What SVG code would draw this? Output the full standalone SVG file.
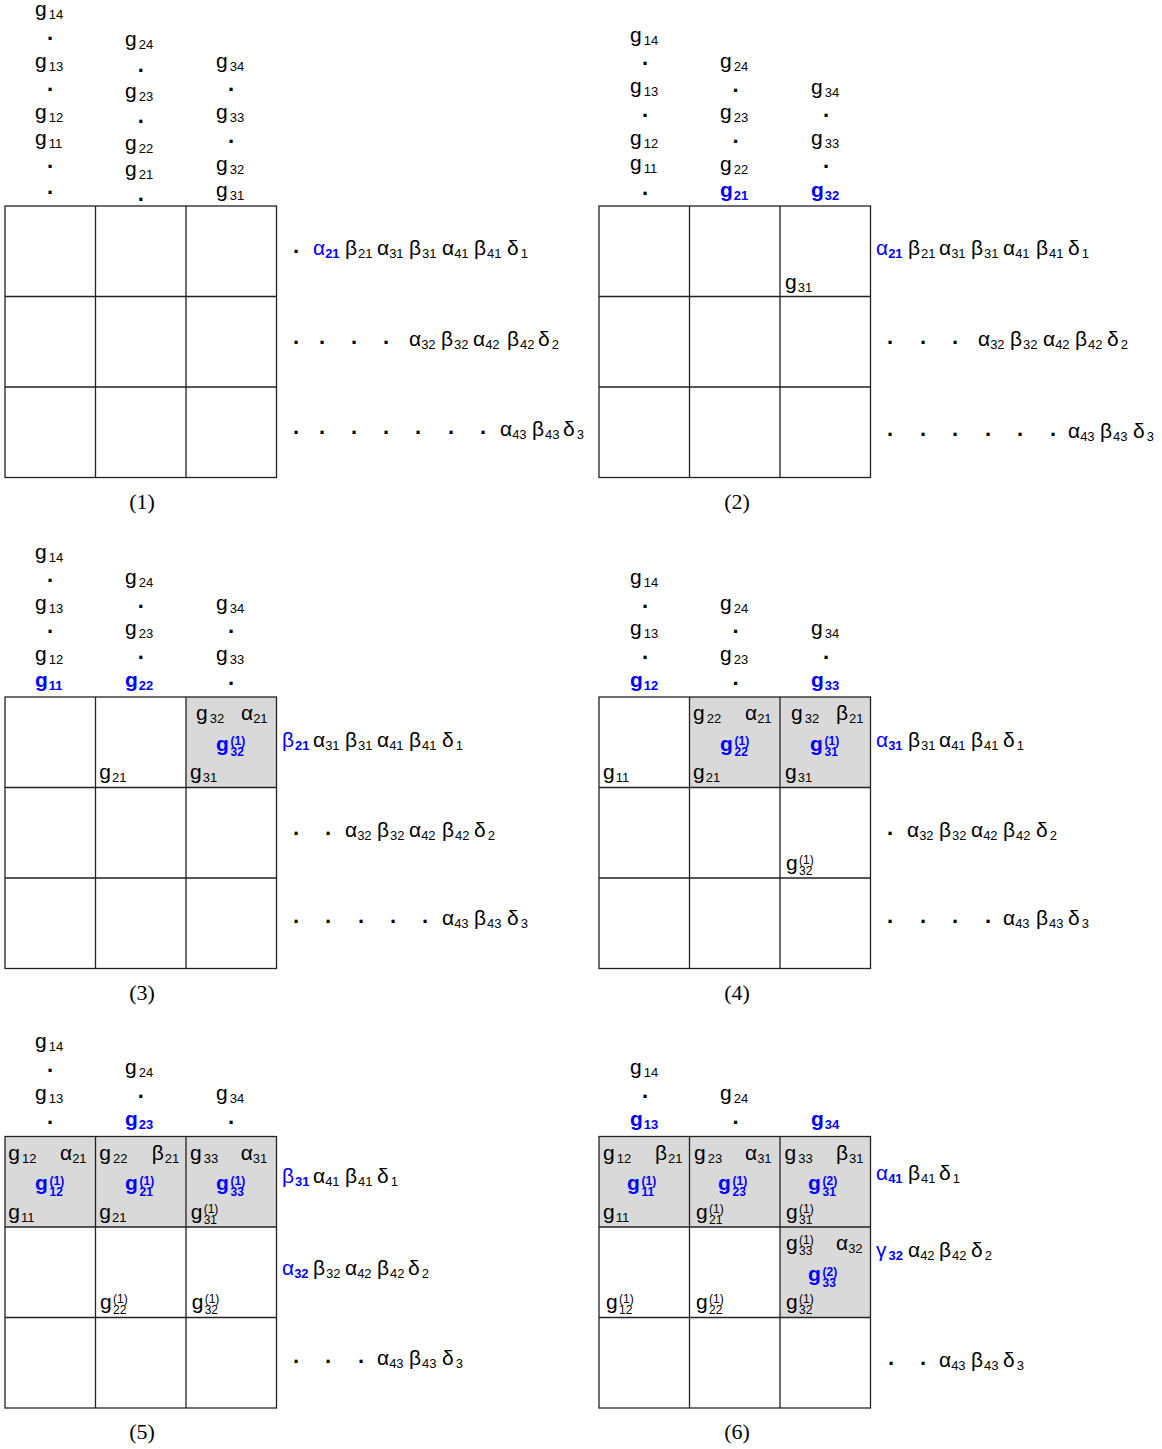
<svg xmlns="http://www.w3.org/2000/svg" width="1162" height="1449" viewBox="0 0 1162 1449">
<style>
text{font-family:"Liberation Sans",Arial,sans-serif;font-size:21px;fill:#000}
.s{font-size:13px}
.k{font-size:12px}
.b{fill:#0000ff;font-weight:bold}
.bl{fill:#0000ff}
.sb{font-weight:bold}
.d{text-anchor:middle;font-weight:bold;font-size:22px}
.lab{font-family:"Liberation Serif","Times New Roman",serif;font-size:22px;text-anchor:middle}
.grid{fill:none;stroke:#222;stroke-width:1.3}
.sh{fill:#d9d9d9}
</style>
<rect width="1162" height="1449" fill="#fff"/>

<!-- ================= Panel 1 ================= -->
<g id="panel1">
  <g class="gridlines">
    <rect class="grid" x="5" y="206" width="271.5" height="271.5"/>
    <path class="grid" d="M95.5 206V477.5M186 206V477.5M5 296.5H276.5M5 387H276.5"/>
  </g>
  <text x="35" y="16">g<tspan class="s" dx="2" dy="3">14</tspan></text>
  <text class="d" x="50" y="40.2">.</text>
  <text x="35" y="68">g<tspan class="s" dx="2" dy="3">13</tspan></text>
  <text class="d" x="50" y="90.8">.</text>
  <text x="35" y="119">g<tspan class="s" dx="2" dy="3">12</tspan></text>
  <text x="35" y="145">g<tspan class="s" dx="2" dy="3">11</tspan></text>
  <text class="d" x="50" y="167.5">.</text>
  <text class="d" x="50" y="193.8">.</text>

  <text x="125" y="46">g<tspan class="s" dx="2" dy="3">24</tspan></text>
  <text class="d" x="140.7" y="71.5">.</text>
  <text x="125" y="98">g<tspan class="s" dx="2" dy="3">23</tspan></text>
  <text class="d" x="140.7" y="123.2">.</text>
  <text x="125" y="150">g<tspan class="s" dx="2" dy="3">22</tspan></text>
  <text x="125" y="176">g<tspan class="s" dx="2" dy="3">21</tspan></text>
  <text class="d" x="140.7" y="200.5">.</text>

  <text x="216" y="68">g<tspan class="s" dx="2" dy="3">34</tspan></text>
  <text class="d" x="231" y="90.8">.</text>
  <text x="216" y="119">g<tspan class="s" dx="2" dy="3">33</tspan></text>
  <text class="d" x="231" y="142.5">.</text>
  <text x="216" y="171">g<tspan class="s" dx="2" dy="3">32</tspan></text>
  <text x="216" y="197">g<tspan class="s" dx="2" dy="3">31</tspan></text>

  <text class="d" x="296" y="253">.</text>
  <text class="bl" x="313" y="255">α<tspan class="s sb" dy="3">21</tspan></text>
  <text x="345" y="255">β<tspan class="s" dx="1" dy="3">21</tspan></text>
  <text x="377" y="255">α<tspan class="s" dy="3">31</tspan></text>
  <text x="409" y="255">β<tspan class="s" dx="1" dy="3">31</tspan></text>
  <text x="442" y="255">α<tspan class="s" dy="3">41</tspan></text>
  <text x="474" y="255">β<tspan class="s" dx="1" dy="3">41</tspan></text>
  <text x="507" y="255">δ<tspan class="s" dx="2" dy="3">1</tspan></text>

  <text class="d" x="296" y="344">.</text>
  <text class="d" x="322" y="344">.</text>
  <text class="d" x="354" y="344">.</text>
  <text class="d" x="386" y="344">.</text>
  <text x="409" y="346">α<tspan class="s" dy="3">32</tspan></text>
  <text x="441" y="346">β<tspan class="s" dx="1" dy="3">32</tspan></text>
  <text x="473" y="346">α<tspan class="s" dy="3">42</tspan></text>
  <text x="507" y="346">β<tspan class="s" dx="1" dy="3">42</tspan></text>
  <text x="538" y="346">δ<tspan class="s" dx="2" dy="3">2</tspan></text>

  <text class="d" x="296" y="434">.</text>
  <text class="d" x="322" y="434">.</text>
  <text class="d" x="354" y="434">.</text>
  <text class="d" x="386" y="434">.</text>
  <text class="d" x="418" y="434">.</text>
  <text class="d" x="451" y="434">.</text>
  <text class="d" x="483" y="434">.</text>
  <text x="500" y="436">α<tspan class="s" dy="3">43</tspan></text>
  <text x="532" y="436">β<tspan class="s" dx="1" dy="3">43</tspan></text>
  <text x="563" y="436">δ<tspan class="s" dx="2" dy="3">3</tspan></text>

  <text class="lab" x="142" y="509">(1)</text>
</g>

<!-- ================= Panel 2 ================= -->
<g id="panel2">
  <g class="gridlines">
    <rect class="grid" x="599" y="206" width="271.5" height="271.5"/>
    <path class="grid" d="M689.5 206V477.5M780 206V477.5M599 296.5H870.5M599 387H870.5"/>
  </g>
  <text x="630" y="42">g<tspan class="s" dx="2" dy="3">14</tspan></text>
  <text class="d" x="645" y="64.8">.</text>
  <text x="630" y="93">g<tspan class="s" dx="2" dy="3">13</tspan></text>
  <text class="d" x="645" y="116.5">.</text>
  <text x="630" y="145">g<tspan class="s" dx="2" dy="3">12</tspan></text>
  <text x="630" y="170">g<tspan class="s" dx="2" dy="3">11</tspan></text>
  <text class="d" x="645" y="194.8">.</text>

  <text x="720" y="68">g<tspan class="s" dx="2" dy="3">24</tspan></text>
  <text class="d" x="735.5" y="91.5">.</text>
  <text x="720" y="119">g<tspan class="s" dx="2" dy="3">23</tspan></text>
  <text class="d" x="735.5" y="143.2">.</text>
  <text x="720" y="171">g<tspan class="s" dx="2" dy="3">22</tspan></text>
  <text class="b" x="720" y="197">g<tspan class="s" dx="1" dy="3">21</tspan></text>

  <text x="811" y="94">g<tspan class="s" dx="2" dy="3">34</tspan></text>
  <text class="d" x="826" y="116.5">.</text>
  <text x="811" y="145">g<tspan class="s" dx="2" dy="3">33</tspan></text>
  <text class="d" x="826" y="168.2">.</text>
  <text class="b" x="811" y="197">g<tspan class="s" dx="1" dy="3">32</tspan></text>

  <text x="785" y="289">g<tspan class="s" dx="1" dy="3">31</tspan></text>

  <text class="bl" x="876" y="255">α<tspan class="s sb" dy="3">21</tspan></text>
  <text x="908" y="255">β<tspan class="s" dx="1" dy="3">21</tspan></text>
  <text x="939" y="255">α<tspan class="s" dy="3">31</tspan></text>
  <text x="971" y="255">β<tspan class="s" dx="1" dy="3">31</tspan></text>
  <text x="1003" y="255">α<tspan class="s" dy="3">41</tspan></text>
  <text x="1036" y="255">β<tspan class="s" dx="1" dy="3">41</tspan></text>
  <text x="1068" y="255">δ<tspan class="s" dx="2" dy="3">1</tspan></text>

  <text class="d" x="890" y="344">.</text>
  <text class="d" x="923" y="344">.</text>
  <text class="d" x="955" y="344">.</text>
  <text x="978" y="346">α<tspan class="s" dy="3">32</tspan></text>
  <text x="1010" y="346">β<tspan class="s" dx="1" dy="3">32</tspan></text>
  <text x="1043" y="346">α<tspan class="s" dy="3">42</tspan></text>
  <text x="1075" y="346">β<tspan class="s" dx="1" dy="3">42</tspan></text>
  <text x="1107" y="346">δ<tspan class="s" dx="2" dy="3">2</tspan></text>

  <text class="d" x="890" y="436">.</text>
  <text class="d" x="923" y="436">.</text>
  <text class="d" x="955" y="436">.</text>
  <text class="d" x="988" y="436">.</text>
  <text class="d" x="1020" y="436">.</text>
  <text class="d" x="1053" y="436">.</text>
  <text x="1068" y="438">α<tspan class="s" dy="3">43</tspan></text>
  <text x="1100" y="438">β<tspan class="s" dx="1" dy="3">43</tspan></text>
  <text x="1133" y="438">δ<tspan class="s" dx="2" dy="3">3</tspan></text>

  <text class="lab" x="737" y="509">(2)</text>
</g>

<!-- ================= Panel 3 ================= -->
<g id="panel3">
  <rect class="sh" x="186" y="697" width="90.5" height="90.5"/>
  <g class="gridlines">
    <rect class="grid" x="5" y="697" width="271.5" height="271.5"/>
    <path class="grid" d="M95.5 697V968.5M186 697V968.5M5 787.5H276.5M5 878H276.5"/>
  </g>
  <text x="35" y="559">g<tspan class="s" dx="2" dy="3">14</tspan></text>
  <text class="d" x="50" y="581.5">.</text>
  <text x="35" y="610">g<tspan class="s" dx="2" dy="3">13</tspan></text>
  <text class="d" x="50" y="632.5">.</text>
  <text x="35" y="661">g<tspan class="s" dx="2" dy="3">12</tspan></text>
  <text class="b" x="35" y="687">g<tspan class="s" dx="1" dy="3">11</tspan></text>

  <text x="125" y="584">g<tspan class="s" dx="2" dy="3">24</tspan></text>
  <text class="d" x="140.7" y="607.5">.</text>
  <text x="125" y="635">g<tspan class="s" dx="2" dy="3">23</tspan></text>
  <text class="d" x="140.7" y="658.5">.</text>
  <text class="b" x="125" y="687">g<tspan class="s" dx="1" dy="3">22</tspan></text>

  <text x="216" y="610">g<tspan class="s" dx="2" dy="3">34</tspan></text>
  <text class="d" x="231" y="632.5">.</text>
  <text x="216" y="661">g<tspan class="s" dx="2" dy="3">33</tspan></text>
  <text class="d" x="231" y="684.5">.</text>

  <text x="99.3" y="779">g<tspan class="s" dx="1" dy="3">21</tspan></text>
  <text x="196" y="720">g<tspan class="s" dx="2" dy="3">32</tspan></text>
  <text x="241" y="720">α<tspan class="s" dy="3">21</tspan></text>
  <text class="b" x="216" y="750.5">g<tspan class="k" x="230.5" dy="-5.5">(1)</tspan><tspan class="k" x="230.5" dy="11">32</tspan></text>
  <text x="190" y="779">g<tspan class="s" dx="1" dy="3">31</tspan></text>

  <text class="bl" x="282" y="747">β<tspan class="s sb" dx="1" dy="3">21</tspan></text>
  <text x="313" y="747">α<tspan class="s" dy="3">31</tspan></text>
  <text x="345" y="747">β<tspan class="s" dx="1" dy="3">31</tspan></text>
  <text x="377" y="747">α<tspan class="s" dy="3">41</tspan></text>
  <text x="409" y="747">β<tspan class="s" dx="1" dy="3">41</tspan></text>
  <text x="442" y="747">δ<tspan class="s" dx="2" dy="3">1</tspan></text>

  <text class="d" x="296" y="835">.</text>
  <text class="d" x="328" y="835">.</text>
  <text x="345" y="837">α<tspan class="s" dy="3">32</tspan></text>
  <text x="377" y="837">β<tspan class="s" dx="1" dy="3">32</tspan></text>
  <text x="409" y="837">α<tspan class="s" dy="3">42</tspan></text>
  <text x="442" y="837">β<tspan class="s" dx="1" dy="3">42</tspan></text>
  <text x="474" y="837">δ<tspan class="s" dx="2" dy="3">2</tspan></text>

  <text class="d" x="296" y="923">.</text>
  <text class="d" x="328" y="923">.</text>
  <text class="d" x="361" y="923">.</text>
  <text class="d" x="393" y="923">.</text>
  <text class="d" x="425" y="923">.</text>
  <text x="442" y="925">α<tspan class="s" dy="3">43</tspan></text>
  <text x="474" y="925">β<tspan class="s" dx="1" dy="3">43</tspan></text>
  <text x="507" y="925">δ<tspan class="s" dx="2" dy="3">3</tspan></text>

  <text class="lab" x="142" y="1000">(3)</text>
</g>

<!-- ================= Panel 4 ================= -->
<g id="panel4">
  <rect class="sh" x="689.5" y="697" width="181" height="90.5"/>
  <g class="gridlines">
    <rect class="grid" x="599" y="697" width="271.5" height="271.5"/>
    <path class="grid" d="M689.5 697V968.5M780 697V968.5M599 787.5H870.5M599 878H870.5"/>
  </g>
  <text x="630" y="584">g<tspan class="s" dx="2" dy="3">14</tspan></text>
  <text class="d" x="645" y="607.5">.</text>
  <text x="630" y="635">g<tspan class="s" dx="2" dy="3">13</tspan></text>
  <text class="d" x="645" y="658.5">.</text>
  <text class="b" x="630" y="687">g<tspan class="s" dx="1" dy="3">12</tspan></text>

  <text x="720" y="610">g<tspan class="s" dx="2" dy="3">24</tspan></text>
  <text class="d" x="735.5" y="632.5">.</text>
  <text x="720" y="661">g<tspan class="s" dx="2" dy="3">23</tspan></text>
  <text class="d" x="735.5" y="684.5">.</text>

  <text x="811" y="635">g<tspan class="s" dx="2" dy="3">34</tspan></text>
  <text class="d" x="826" y="658.5">.</text>
  <text class="b" x="811" y="687">g<tspan class="s" dx="1" dy="3">33</tspan></text>

  <text x="603" y="779">g<tspan class="s" dx="1" dy="3">11</tspan></text>

  <text x="693" y="720">g<tspan class="s" dx="2" dy="3">22</tspan></text>
  <text x="745" y="720">α<tspan class="s" dy="3">21</tspan></text>
  <text class="b" x="720" y="750.5">g<tspan class="k" x="734.5" dy="-5.5">(1)</tspan><tspan class="k" x="734.5" dy="11">22</tspan></text>
  <text x="693" y="779">g<tspan class="s" dx="1" dy="3">21</tspan></text>

  <text x="791" y="720">g<tspan class="s" dx="2" dy="3">32</tspan></text>
  <text x="836" y="720">β<tspan class="s" dx="1" dy="3">21</tspan></text>
  <text class="b" x="810" y="750.5">g<tspan class="k" x="824.5" dy="-5.5">(1)</tspan><tspan class="k" x="824.5" dy="11">31</tspan></text>
  <text x="785" y="779">g<tspan class="s" dx="1" dy="3">31</tspan></text>

  <text x="786" y="869.5">g<tspan class="k" x="799" dy="-6">(1)</tspan><tspan class="k" x="799" dy="11">32</tspan></text>

  <text class="bl" x="876" y="747">α<tspan class="s sb" dy="3">31</tspan></text>
  <text x="908" y="747">β<tspan class="s" dx="1" dy="3">31</tspan></text>
  <text x="939" y="747">α<tspan class="s" dy="3">41</tspan></text>
  <text x="971" y="747">β<tspan class="s" dx="1" dy="3">41</tspan></text>
  <text x="1003" y="747">δ<tspan class="s" dx="2" dy="3">1</tspan></text>

  <text class="d" x="890" y="835">.</text>
  <text x="907" y="837">α<tspan class="s" dy="3">32</tspan></text>
  <text x="939" y="837">β<tspan class="s" dx="1" dy="3">32</tspan></text>
  <text x="971" y="837">α<tspan class="s" dy="3">42</tspan></text>
  <text x="1003" y="837">β<tspan class="s" dx="1" dy="3">42</tspan></text>
  <text x="1036" y="837">δ<tspan class="s" dx="2" dy="3">2</tspan></text>

  <text class="d" x="890" y="923">.</text>
  <text class="d" x="923" y="923">.</text>
  <text class="d" x="955" y="923">.</text>
  <text class="d" x="988" y="923">.</text>
  <text x="1003" y="925">α<tspan class="s" dy="3">43</tspan></text>
  <text x="1036" y="925">β<tspan class="s" dx="1" dy="3">43</tspan></text>
  <text x="1068" y="925">δ<tspan class="s" dx="2" dy="3">3</tspan></text>

  <text class="lab" x="737" y="1000">(4)</text>
</g>

<!-- ================= Panel 5 ================= -->
<g id="panel5">
  <rect class="sh" x="5" y="1136.5" width="271.5" height="90.5"/>
  <g class="gridlines">
    <rect class="grid" x="5" y="1136.5" width="271.5" height="271.5"/>
    <path class="grid" d="M95.5 1136.5V1408M186 1136.5V1408M5 1227H276.5M5 1317.5H276.5"/>
  </g>
  <text x="35" y="1048">g<tspan class="s" dx="2" dy="3">14</tspan></text>
  <text class="d" x="50" y="1071.5">.</text>
  <text x="35" y="1100">g<tspan class="s" dx="2" dy="3">13</tspan></text>
  <text class="d" x="50" y="1123.5">.</text>

  <text x="125" y="1074">g<tspan class="s" dx="2" dy="3">24</tspan></text>
  <text class="d" x="140.7" y="1097.5">.</text>
  <text class="b" x="125" y="1126">g<tspan class="s" dx="1" dy="3">23</tspan></text>

  <text x="216" y="1100">g<tspan class="s" dx="2" dy="3">34</tspan></text>
  <text class="d" x="231" y="1123.5">.</text>

  <text x="8.3" y="1159.5">g<tspan class="s" dx="2" dy="3">12</tspan></text>
  <text x="60" y="1159.5">α<tspan class="s" dy="3">21</tspan></text>
  <text class="b" x="35" y="1190">g<tspan class="k" x="49.5" dy="-5.5">(1)</tspan><tspan class="k" x="49.5" dy="11">12</tspan></text>
  <text x="8.3" y="1218.5">g<tspan class="s" dx="1" dy="3">11</tspan></text>

  <text x="99.3" y="1159.5">g<tspan class="s" dx="2" dy="3">22</tspan></text>
  <text x="151.7" y="1159.5">β<tspan class="s" dx="1" dy="3">21</tspan></text>
  <text class="b" x="125" y="1190">g<tspan class="k" x="139.5" dy="-5.5">(1)</tspan><tspan class="k" x="139.5" dy="11">21</tspan></text>
  <text x="99.3" y="1218.5">g<tspan class="s" dx="1" dy="3">21</tspan></text>

  <text x="190" y="1159.5">g<tspan class="s" dx="2" dy="3">33</tspan></text>
  <text x="240.7" y="1159.5">α<tspan class="s" dy="3">31</tspan></text>
  <text class="b" x="216" y="1190">g<tspan class="k" x="230.5" dy="-5.5">(1)</tspan><tspan class="k" x="230.5" dy="11">33</tspan></text>
  <text x="190.7" y="1218.5">g<tspan class="k" x="203.7" dy="-6">(1)</tspan><tspan class="k" x="203.7" dy="11">31</tspan></text>

  <text x="100" y="1309">g<tspan class="k" x="113" dy="-6">(1)</tspan><tspan class="k" x="113" dy="11">22</tspan></text>
  <text x="191.7" y="1309">g<tspan class="k" x="204.7" dy="-6">(1)</tspan><tspan class="k" x="204.7" dy="11">32</tspan></text>

  <text class="bl" x="282" y="1183">β<tspan class="s sb" dx="1" dy="3">31</tspan></text>
  <text x="313" y="1183">α<tspan class="s" dy="3">41</tspan></text>
  <text x="345" y="1183">β<tspan class="s" dx="1" dy="3">41</tspan></text>
  <text x="377" y="1183">δ<tspan class="s" dx="2" dy="3">1</tspan></text>

  <text class="bl" x="282" y="1275">α<tspan class="s sb" dy="3">32</tspan></text>
  <text x="313" y="1275">β<tspan class="s" dx="1" dy="3">32</tspan></text>
  <text x="345" y="1275">α<tspan class="s" dy="3">42</tspan></text>
  <text x="377" y="1275">β<tspan class="s" dx="1" dy="3">42</tspan></text>
  <text x="408" y="1275">δ<tspan class="s" dx="2" dy="3">2</tspan></text>

  <text class="d" x="296" y="1363">.</text>
  <text class="d" x="328" y="1363">.</text>
  <text class="d" x="361" y="1363">.</text>
  <text x="377" y="1365">α<tspan class="s" dy="3">43</tspan></text>
  <text x="409" y="1365">β<tspan class="s" dx="1" dy="3">43</tspan></text>
  <text x="442" y="1365">δ<tspan class="s" dx="2" dy="3">3</tspan></text>

  <text class="lab" x="142" y="1439">(5)</text>
</g>

<!-- ================= Panel 6 ================= -->
<g id="panel6">
  <rect class="sh" x="599" y="1136.5" width="271.5" height="90.5"/>
  <rect class="sh" x="780" y="1227" width="90.5" height="90.5"/>
  <g class="gridlines">
    <rect class="grid" x="599" y="1136.5" width="271.5" height="271.5"/>
    <path class="grid" d="M689.5 1136.5V1408M780 1136.5V1408M599 1227H870.5M599 1317.5H870.5"/>
  </g>
  <text x="630" y="1074">g<tspan class="s" dx="2" dy="3">14</tspan></text>
  <text class="d" x="645" y="1097.5">.</text>
  <text class="b" x="630" y="1126">g<tspan class="s" dx="1" dy="3">13</tspan></text>

  <text x="720" y="1100">g<tspan class="s" dx="2" dy="3">24</tspan></text>
  <text class="d" x="735.5" y="1123.5">.</text>

  <text class="b" x="811" y="1126">g<tspan class="s" dx="1" dy="3">34</tspan></text>

  <text x="603" y="1159.5">g<tspan class="s" dx="2" dy="3">12</tspan></text>
  <text x="655" y="1159.5">β<tspan class="s" dx="1" dy="3">21</tspan></text>
  <text class="b" x="627" y="1190">g<tspan class="k" x="641.5" dy="-5.5">(1)</tspan><tspan class="k" x="641.5" dy="11">11</tspan></text>
  <text x="603" y="1218.5">g<tspan class="s" dx="1" dy="3">11</tspan></text>

  <text x="694" y="1159.5">g<tspan class="s" dx="2" dy="3">23</tspan></text>
  <text x="745" y="1159.5">α<tspan class="s" dy="3">31</tspan></text>
  <text class="b" x="718" y="1190">g<tspan class="k" x="732.5" dy="-5.5">(1)</tspan><tspan class="k" x="732.5" dy="11">23</tspan></text>
  <text x="696" y="1218.5">g<tspan class="k" x="709" dy="-6">(1)</tspan><tspan class="k" x="709" dy="11">21</tspan></text>

  <text x="784.5" y="1159.5">g<tspan class="s" dx="2" dy="3">33</tspan></text>
  <text x="836" y="1159.5">β<tspan class="s" dx="1" dy="3">31</tspan></text>
  <text class="b" x="808" y="1190">g<tspan class="k" x="822.5" dy="-5.5">(2)</tspan><tspan class="k" x="822.5" dy="11">31</tspan></text>
  <text x="786" y="1218.5">g<tspan class="k" x="799" dy="-6">(1)</tspan><tspan class="k" x="799" dy="11">31</tspan></text>

  <text x="786" y="1250">g<tspan class="k" x="799" dy="-6">(1)</tspan><tspan class="k" x="799" dy="11">33</tspan></text>
  <text x="836" y="1250">α<tspan class="s" dy="3">32</tspan></text>
  <text class="b" x="808" y="1281">g<tspan class="k" x="822.5" dy="-5.5">(2)</tspan><tspan class="k" x="822.5" dy="11">33</tspan></text>
  <text x="786" y="1309">g<tspan class="k" x="799" dy="-6">(1)</tspan><tspan class="k" x="799" dy="11">32</tspan></text>

  <text x="606" y="1309">g<tspan class="k" x="619" dy="-6">(1)</tspan><tspan class="k" x="619" dy="11">12</tspan></text>
  <text x="696" y="1309">g<tspan class="k" x="709" dy="-6">(1)</tspan><tspan class="k" x="709" dy="11">22</tspan></text>

  <text class="bl" x="876" y="1180">α<tspan class="s sb" dy="3">41</tspan></text>
  <text x="908" y="1180">β<tspan class="s" dx="1" dy="3">41</tspan></text>
  <text x="939" y="1180">δ<tspan class="s" dx="2" dy="3">1</tspan></text>

  <text class="bl" x="876" y="1257">γ<tspan class="s sb" dx="2" dy="3">32</tspan></text>
  <text x="908" y="1257">α<tspan class="s" dy="3">42</tspan></text>
  <text x="939" y="1257">β<tspan class="s" dx="1" dy="3">42</tspan></text>
  <text x="971" y="1257">δ<tspan class="s" dx="2" dy="3">2</tspan></text>

  <text class="d" x="891" y="1365">.</text>
  <text class="d" x="923" y="1365">.</text>
  <text x="939" y="1367">α<tspan class="s" dy="3">43</tspan></text>
  <text x="971" y="1367">β<tspan class="s" dx="1" dy="3">43</tspan></text>
  <text x="1003" y="1367">δ<tspan class="s" dx="2" dy="3">3</tspan></text>

  <text class="lab" x="737" y="1439">(6)</text>
</g>
</svg>
